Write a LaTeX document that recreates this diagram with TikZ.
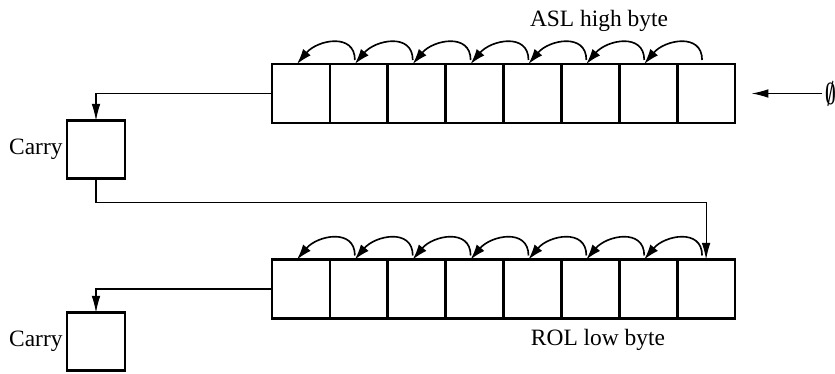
\documentclass[tikz,border=0pt]{standalone}
\usepackage{amsmath}
\usepackage{fontspec}
\setmainfont{Liberation Serif}
\usetikzlibrary{positioning}
\usetikzlibrary{arrows.meta}

\tikzset{
  bit/.style={draw, line width=1.15pt, minimum width=8.68mm, minimum height=8.85mm, inner sep=0pt, outer sep=0pt},
  carrybox/.style={draw, line width=1.15pt, minimum size=8.7mm, inner sep=0pt, outer sep=0pt},
  flow/.style={line width=0.45pt, -{Latex[length=2.5mm, width=1.3mm]}},
  shiftarc/.style={line width=0.7pt, -{Latex[length=2.3mm, width=1.5mm]}, shorten <=0.6mm},
}

\begin{document}
\begin{tikzpicture}[x=0.15mm, y=-0.15mm]
    \useasboundingbox (0,0) rectangle (835,373);

    % the two bytes
    \node[bit] (hi1) at (301,93.5) {};
    \node[bit] (lo1) at (301,289) {};
    \foreach \i [count=\j from 2] in {1,...,7} {
        \node[bit, right=0pt of hi\i] (hi\j) {};
        \node[bit, right=0pt of lo\i] (lo\j) {};
    }

    % shift arrows
    \foreach \i [count=\j from 2] in {1,...,7} {
        \draw[shiftarc] ([xshift=-0.6mm]hi\j.north) to[out=90, in=50, looseness=1.4] ([xshift=-0.6mm]hi\i.north);
        \draw[shiftarc] ([xshift=-0.6mm]lo\j.north) to[out=90, in=50, looseness=1.4] ([xshift=-0.6mm]lo\i.north);
    }

    % carry flags
    \node[carrybox] (c1) at (96,149.5) {};
    \node[carrybox] (c2) at (96,341.5) {};
    \node[left=0.6mm of c1, inner sep=0pt] (c1lbl) {Carry};
    \node[left=0.6mm of c2, inner sep=0pt] (c2lbl) {Carry};

    \draw[flow] (hi1.west) -| (c1.north);
    \draw[flow] (lo1.west) -| (c2.north);
    \coordinate[above=8.55mm of lo8.north] (bend);
    \draw[flow] (c1.south) |- (bend) -- (lo8.north);

    % zero in
    \coordinate[right=2.5mm of hi8.east] (zin);
    \node[right=10.6mm of zin, inner sep=0.4mm] (zero) {\scalebox{0.8}[1.3]{$\boldsymbol{\emptyset}$}};
    \draw[flow] (zero.west) -- (zin);

    \node (hilbl) at (599,21) {ASL high byte};
    \node (lolbl) at (598,340) {ROL low byte};
\end{tikzpicture}
\end{document}
